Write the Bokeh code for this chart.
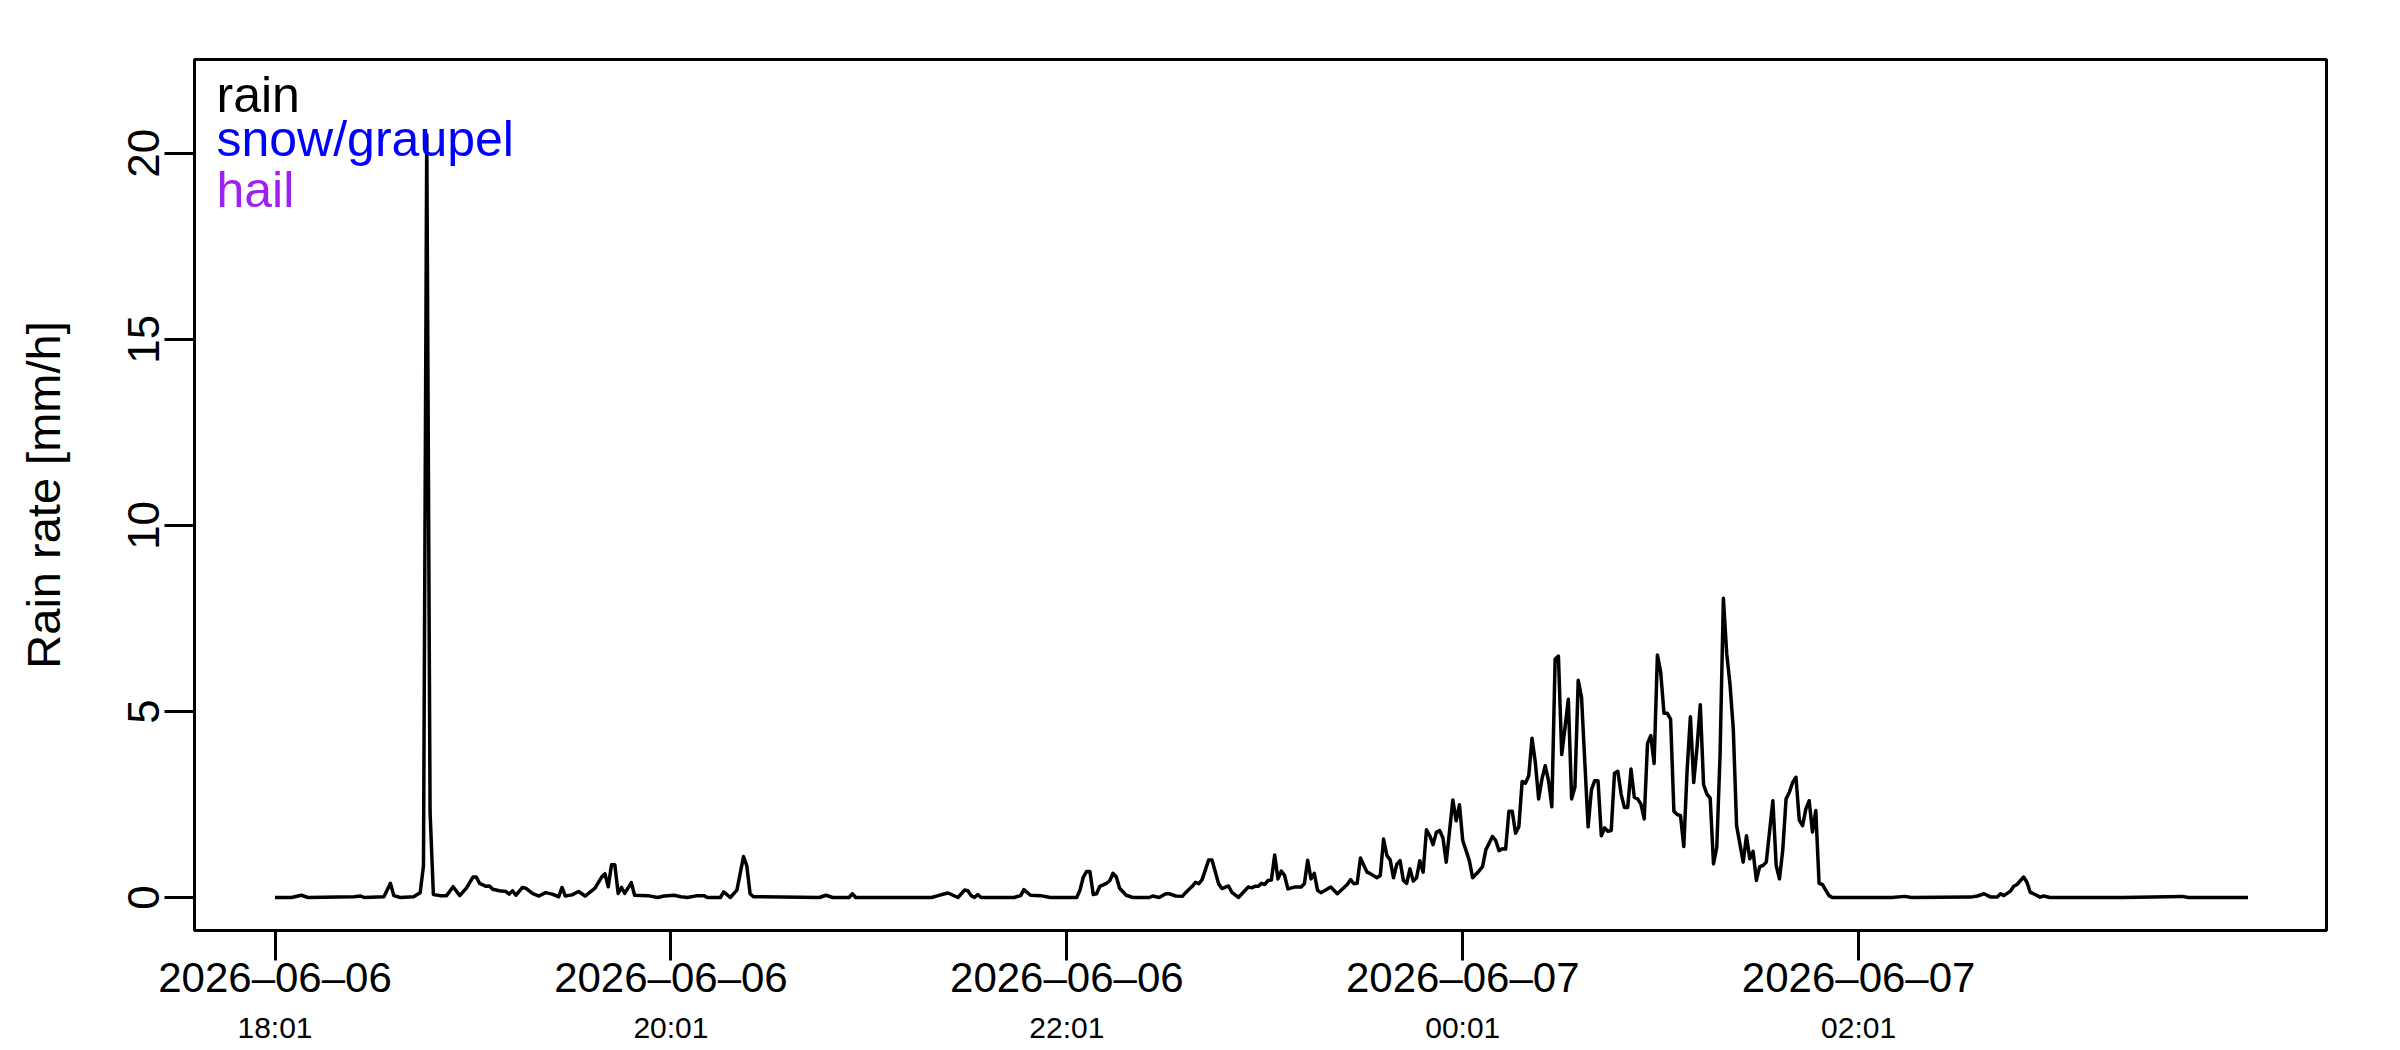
from datetime import datetime, timedelta

from bokeh.embed import file_html
from bokeh.models import (CustomJSTickFormatter, DatetimeAxis, FixedTicker,
                          Label, Range1d)
from bokeh.plotting import figure
from bokeh.resources import INLINE

start = datetime(2026, 6, 6, 18, 1)

# minutes after 18:01 and rain rate in mm/h
minutes = [
    0, 5, 8, 10, 24, 26, 27, 33, 35, 36, 38, 42, 44, 45, 46, 47, 48, 50, 52, 54,
    56, 58, 60, 61, 62, 64, 65, 66, 68, 70, 71, 72, 73, 75, 76, 78, 80, 82, 84, 86,
    87, 88, 90, 92, 94, 97, 99, 100, 101, 102, 103, 104, 105, 106, 108, 109, 113, 116, 118, 121,
    123, 125, 128, 130, 131, 135, 136, 138, 140, 142, 143, 144, 145, 165, 167, 169, 174, 175, 176, 199,
    201, 203, 204, 207, 209, 210, 211, 212, 213, 214, 224, 226, 227, 229, 232, 235, 243, 244, 245, 246,
    247, 248, 249, 250, 252, 253, 254, 255, 256, 258, 260, 265, 266, 268,
    270, 271, 273, 275, 276, 278, 279, 280, 281, 283, 284, 286, 287, 289, 290, 292,
    295, 296, 297, 298, 299, 300, 301, 302, 303, 304, 305, 306, 307, 309, 311, 312,
    313, 314, 315, 316, 317, 320, 322, 325, 326, 327, 328, 329, 331, 332, 334, 335,
    336, 337, 338, 339, 340, 341, 342, 343, 344, 345, 346, 347, 348, 349, 350, 351,
    352, 353, 354, 355, 357, 358, 359, 360, 362, 363, 365, 366, 367, 369, 370, 371,
    372, 373,
    374, 375, 376, 377, 378, 379, 380, 381, 382, 383, 384, 385, 386, 387, 388, 389,
    390, 391, 392, 393, 394, 395, 396, 398, 399, 400, 401, 402, 403, 404, 405, 406,
    407, 408, 409, 410, 411, 412, 413, 414, 415, 416, 417, 418, 419, 420, 421, 422,
    423, 424, 425, 426, 427, 428, 429, 430, 431, 432, 433, 434, 435, 436, 437, 438,
    439, 440, 441, 442, 443, 445, 446, 447, 448, 449, 450, 451, 452, 454, 455, 456,
    457, 458, 459, 460, 461, 462, 463, 464, 465, 466, 467, 468, 469, 470, 471, 472,
    490, 494, 496, 514, 516, 518, 520, 522, 523, 524, 526, 527, 528, 530, 531, 532,
    533, 535, 536, 538, 560, 578, 580, 598,
]
rain_rate = [
    0, 0, 0.06, 0, 0.02, 0.04, 0, 0.02, 0.38, 0.05, 0, 0.02, 0.13, 0.85, 20.5, 2.3, 0.08, 0.05, 0.05, 0.29,
    0.05, 0.25, 0.55, 0.55, 0.38, 0.3, 0.31, 0.22, 0.18, 0.16, 0.09, 0.18, 0.06, 0.27, 0.25, 0.11, 0.04, 0.13, 0.09, 0.02,
    0.27, 0.04, 0.07, 0.16, 0.04, 0.25, 0.55, 0.64, 0.29, 0.88, 0.88, 0.11, 0.27, 0.11, 0.4, 0.06, 0.05, 0, 0.04, 0.06,
    0.02, 0, 0.05, 0.05, 0, 0, 0.15, 0, 0.2, 1.1, 0.85, 0.1, 0.02, 0, 0.06, 0, 0, 0.1, 0, 0,
    0.05, 0.1, 0.12, 0, 0.2, 0.18, 0.05, 0, 0.08, 0, 0, 0.05, 0.21, 0.06, 0.05, 0, 0, 0.2, 0.55, 0.7,
    0.7, 0.08, 0.1, 0.3, 0.38, 0.45, 0.65, 0.55, 0.25, 0.06, 0, 0, 0.04, 0,
    0.1, 0.1, 0.04, 0.03, 0.13, 0.3, 0.41, 0.37, 0.48, 1.01, 1.01, 0.37, 0.24, 0.31, 0.14, 0,
    0.28, 0.26, 0.3, 0.3, 0.38, 0.35, 0.46, 0.47, 1.14, 0.5, 0.71, 0.59, 0.23, 0.28, 0.28, 0.37,
    1.0, 0.5, 0.65, 0.19, 0.13, 0.28, 0.1, 0.35, 0.48, 0.37, 0.38, 1.06, 0.68, 0.64, 0.53, 0.59,
    1.57, 1.13, 1.01, 0.53, 0.89, 0.99, 0.46, 0.38, 0.77, 0.44, 0.53, 0.99, 0.68, 1.82, 1.66, 1.42,
    1.75, 1.8, 1.6, 0.95, 2.62, 2.06, 2.49, 1.53, 0.99, 0.53, 0.72, 0.83, 1.28, 1.64, 1.53, 1.26,
    1.31, 1.3,
    2.32, 2.32, 1.73, 1.9, 3.12, 3.07, 3.27, 4.28, 3.63, 2.65, 3.18, 3.54, 3.14, 2.44, 6.4, 6.49,
    3.84, 4.57, 5.33, 2.65, 2.96, 5.84, 5.38, 1.9, 2.89, 3.14, 3.14, 1.66, 1.87, 1.78, 1.8, 3.34,
    3.39, 2.78, 2.42, 2.42, 3.45, 2.69, 2.65, 2.51, 2.11, 4.14, 4.35, 3.6, 6.52, 6.05, 4.95, 4.95,
    4.79, 2.32, 2.23, 2.2, 1.37, 3.41, 4.86, 3.09, 4.03, 5.18, 3.03, 2.78, 2.67, 0.9, 1.35, 3.86,
    8.04, 6.56, 5.73, 4.53, 1.93, 0.95, 1.66, 1.04, 1.24, 0.46, 0.83, 0.86, 0.95, 2.6, 0.86, 0.5,
    1.28, 2.65, 2.83, 3.09, 3.23, 2.08, 1.93, 2.38, 2.6, 1.76, 2.34, 0.38, 0.35, 0.2, 0.05, 0,
    0, 0.03, 0, 0.01, 0.04, 0.1, 0.01, 0.01, 0.1, 0.05, 0.17, 0.3, 0.35, 0.55, 0.41, 0.14,
    0.1, 0.01, 0.04, 0, 0, 0.03, 0, 0,
]

tick_minutes = [0, 120, 240, 360, 480]
tick_dates = ["2026\u201306\u201306", "2026\u201306\u201306", "2026\u201306\u201306",
              "2026\u201306\u201307", "2026\u201306\u201307"]
tick_clock = ["18:01", "20:01", "22:01", "00:01", "02:01"]

legend_names = ["rain", "snow/graupel", "hail"]
legend_colors = ["black", "#0000FF", "#A020F0"]

FONT = "Liberation Sans"

times = [start + timedelta(minutes=m) for m in minutes]
epoch = datetime(1970, 1, 1)
tick_ms = [((start + timedelta(minutes=m)) - epoch).total_seconds() * 1000 for m in tick_minutes]

p = figure(x_axis_type="datetime", frame_width=2132, frame_height=871,
           min_border_left=194, min_border_top=59, min_border_right=60, min_border_bottom=0,
           toolbar_location=None, output_backend="svg",
           x_range=Range1d(start + timedelta(minutes=-24.4), start + timedelta(minutes=621.8)),
           y_range=Range1d(-0.887, 22.52))

p.line(times, rain_rate, line_width=3.5, color="black", line_join="round")

p.grid.visible = False
p.outline_line_color = "black"
p.outline_line_width = 3
p.background_fill_color = "white"
p.border_fill_color = "white"

# x axis: dates
xa = p.xaxis[0]
xa.ticker = FixedTicker(ticks=tick_ms)
xa.formatter = CustomJSTickFormatter(args=dict(labels=tick_dates), code="return labels[index]")
xa.axis_line_color = None
xa.major_tick_line_width = 3
xa.major_tick_line_color = "black"
xa.major_tick_out = 30
xa.major_tick_in = 0
xa.minor_tick_line_color = None
xa.major_label_text_font = FONT
xa.major_label_text_font_size = "42px"
xa.major_label_text_color = "black"
xa.major_label_standoff = -7

# second row: clock times
xa2 = DatetimeAxis(ticker=FixedTicker(ticks=tick_ms),
                   formatter=CustomJSTickFormatter(args=dict(labels=tick_clock), code="return labels[index]"))
xa2.axis_line_color = None
xa2.major_tick_line_color = None
xa2.major_tick_out = 0
xa2.major_tick_in = 0
xa2.minor_tick_line_color = None
xa2.major_label_text_font = FONT
xa2.major_label_text_font_size = "30px"
xa2.major_label_text_color = "black"
xa2.major_label_standoff = 7
p.add_layout(xa2, "below")

ya = p.yaxis[0]
ya.ticker = FixedTicker(ticks=[0, 5, 10, 15, 20])
ya.axis_line_color = None
ya.major_tick_line_width = 3
ya.major_tick_line_color = "black"
ya.major_tick_out = 30
ya.major_tick_in = 0
ya.minor_tick_line_color = None
ya.major_label_orientation = "vertical"
ya.major_label_text_font = FONT
ya.major_label_text_font_size = "44px"
ya.major_label_text_color = "black"
ya.major_label_standoff = 5
ya.axis_label = "Rain rate [mm/h]"
ya.axis_label_text_font = FONT
ya.axis_label_text_font_style = "normal"
ya.axis_label_text_font_size = "47px"
ya.axis_label_text_color = "black"
ya.axis_label_standoff = 56

legend_y = [836, 792, 741]
for name, col, yy in zip(legend_names, legend_colors, legend_y):
    p.add_layout(Label(x=22, y=yy, x_units="screen", y_units="screen", text=name,
                       text_color=col, text_font=FONT, text_font_size="50px",
                       text_baseline="alphabetic"))

open("out.html", "w").write(file_html(p, INLINE))
